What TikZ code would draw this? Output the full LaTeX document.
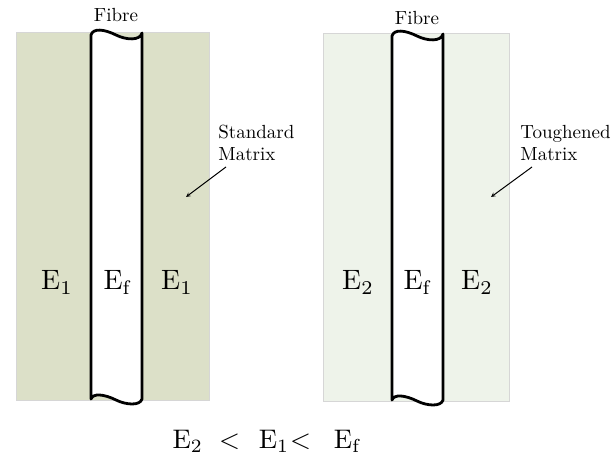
\documentclass[tikz,border=0pt]{standalone}
\usepackage{tikz}
\definecolor{stdfill}{HTML}{DCE0C8}
\definecolor{tghfill}{HTML}{EEF3EA}
\definecolor{panelborder}{HTML}{D6D6D6}
\tikzset{
  panel/.style={draw=panelborder, line width=0.8pt},
  fibrepath/.style={draw=black, fill=white, line width=2.8pt, line join=round},
  small/.style={inner sep=0pt, font=\fontsize{10}{11.6}\selectfont, scale=1.9},
  big/.style={inner sep=0pt, anchor=base, font=\fontsize{10}{12}\selectfont, scale=2.8},
  pointer/.style={-stealth, line width=1pt},
}
\begin{document}
\begin{tikzpicture}[x=1pt,y=-1pt]
\useasboundingbox (0,0) rectangle (611,457);
% left panel
\fill[stdfill] (16,32) rectangle (209,400);
\draw[panel] (16,32) rectangle (209,400);
\path[fibrepath] (91,35) .. controls (93,28) and (104,29) .. (116,35)
  .. controls (126,40) and (140,41) .. (142,33) -- (142,399)
  .. controls (140,406) and (126,405) .. (116,400)
  .. controls (104,394) and (93,393) .. (91,399) -- cycle;
% right panel
\fill[tghfill] (323,33) rectangle (509,401);
\draw[panel] (323,33) rectangle (509,401);
\path[fibrepath] (392,36) .. controls (394,29) and (405,30) .. (417,36)
  .. controls (427,41) and (441,42) .. (443,34) -- (443,400)
  .. controls (441,407) and (427,406) .. (417,401)
  .. controls (405,395) and (394,394) .. (392,400) -- cycle;
% labels
\node[small, anchor=base] (fib1) at (116,22) {Fibre};
\node[small, anchor=base] (fib2) at (417,25) {Fibre};
\node[small, anchor=north west, align=left] (std) at (218,125) {Standard\\Matrix};
\node[small, anchor=north west, align=left] (tgh) at (520,125) {Toughened\\Matrix};
\coordinate (a1s) at (226,167);
\coordinate (a1e) at (186,197);
\coordinate (a2s) at (532,167);
\coordinate (a2e) at (491,197);
\draw[pointer] (a1s) -- (a1e);
\draw[pointer] (a2s) -- (a2e);
% moduli
\node[big] (e1a) at (57,290) {E$_1$};
\node[big] (efa) at (118,290) {E$_\mathrm{f}$};
\node[big] (e1b) at (177,290) {E$_1$};
\node[big] (e2a) at (358,290) {E$_2$};
\node[big] (efb) at (418,290) {E$_\mathrm{f}$};
\node[big] (e2b) at (477,290) {E$_2$};
\node[big, anchor=base west, scale=0.96] (ineq) at (172,448)
  {E$_2$\hspace{6pt}$<$\hspace{7pt}E$_1$\hspace{0.4pt}$<$\hspace{8.5pt}E$_\mathrm{f}$};
\end{tikzpicture}
\end{document}
